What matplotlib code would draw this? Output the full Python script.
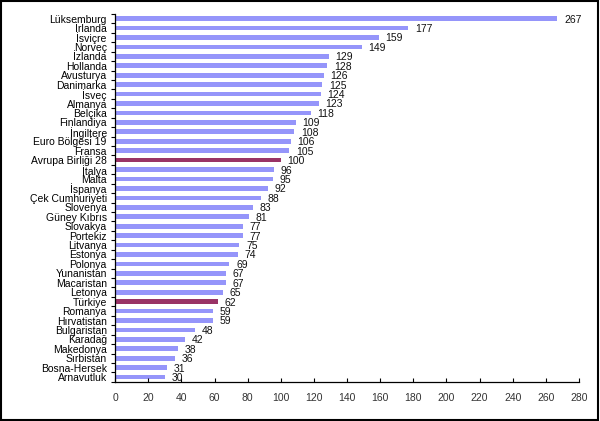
import numpy as np
import matplotlib.pyplot as plt
from matplotlib.patches import Rectangle

# --------------------------------------------------------------------------- #
#  Datos (kişi başına GSYH, AB28 = 100)
# --------------------------------------------------------------------------- #
countries = ["Lüksemburg", "İrlanda", "İsviçre", "Norveç", "İzlanda", "Hollanda",
             "Avusturya", "Danimarka", "İsveç", "Almanya", "Belçika", "Finlandiya",
             "İngiltere", "Euro Bölgesi 19", "Fransa", "Avrupa Birliği 28", "İtalya",
             "Malta", "İspanya", "Çek Cumhuriyeti", "Slovenya", "Güney Kıbrıs",
             "Slovakya", "Portekiz", "Litvanya", "Estonya", "Polonya", "Yunanistan",
             "Macaristan", "Letonya", "Türkiye", "Romanya", "Hırvatistan",
             "Bulgaristan", "Karadağ", "Makedonya", "Sırbistan", "Bosna-Hersek",
             "Arnavutluk"]
values = [267, 177, 159, 149, 129, 128, 126, 125, 124, 123, 118, 109, 108, 106,
          105, 100, 96, 95, 92, 88, 83, 81, 77, 77, 75, 74, 69, 67, 67, 65, 62,
          59, 59, 48, 42, 38, 36, 31, 30]
highlight = ["Avrupa Birliği 28", "Türkiye"]

BAR_COLOR = "#9595fa"
HL_COLOR = "#993366"

plt.rcParams["font.family"] = ["Liberation Sans", "DejaVu Sans"]

fig = plt.figure(figsize=(6.0, 4.21), dpi=100)
ax = fig.add_axes([0.192, 0.093, 0.773, 0.874])

y = np.arange(len(countries))
colors = [HL_COLOR if c in highlight else BAR_COLOR for c in countries]
ax.barh(y, values, height=0.5, color=colors, edgecolor="none")

for yi, v in zip(y, values):
    ax.text(v + 4, yi + 0.1, f"{v}", va="center", ha="left", fontsize=7.5,
            color="#111111")

ax.set_ylim(len(countries) - 0.5, -0.5)
ax.set_xlim(0, 280)
ax.set_xticks(np.arange(0, 281, 20))
ax.set_yticks(y)
ax.set_yticklabels(countries, fontsize=7.5)
ax.set_yticks(np.arange(-0.5, len(countries), 1), minor=True)
ax.tick_params(axis="y", which="major", length=0, pad=6)
ax.tick_params(axis="y", which="minor", length=3, direction="out", width=0.8)
ax.tick_params(axis="x", length=3, direction="in", width=0.8, labelsize=7.5,
               pad=8, labelcolor="#333333")

for side in ("top", "right"):
    ax.spines[side].set_visible(False)
for side in ("left", "bottom"):
    ax.spines[side].set_linewidth(0.9)

# marco negro alrededor de la figura
fig.patches.append(Rectangle((0.002, 0.003), 0.995, 0.994, transform=fig.transFigure,
                             fill=False, edgecolor="black", linewidth=1.5))

fig.savefig("out.png", dpi=100)
